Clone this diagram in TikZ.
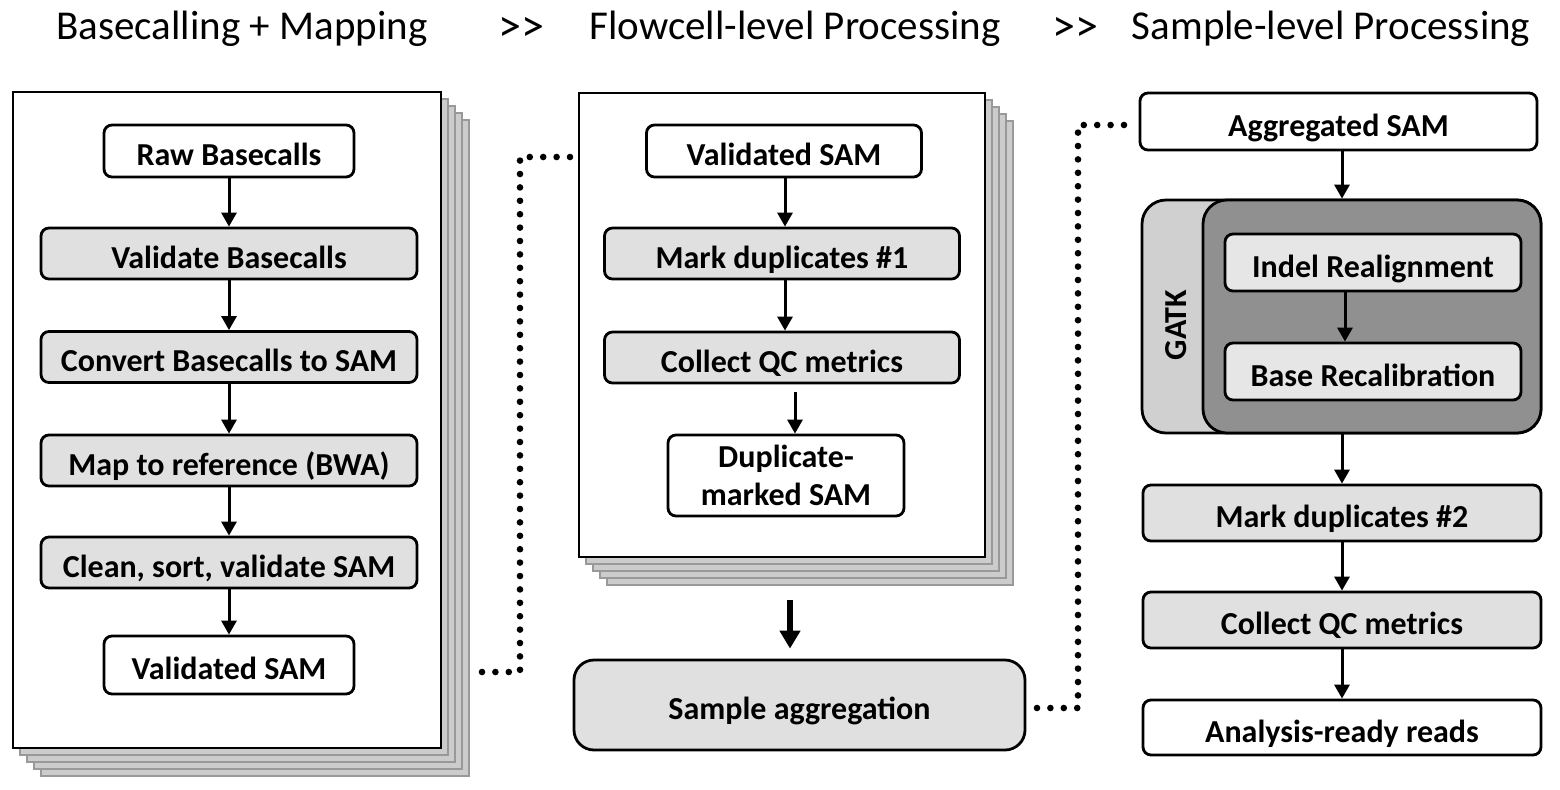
\documentclass[tikz,border=0pt]{standalone}
\usepackage{fontspec}
\setmainfont{Carlito}
\usetikzlibrary{arrows.meta}
\definecolor{boxgray}{HTML}{E0E0E0}
\definecolor{pagegray}{HTML}{CCCCCC}
\definecolor{pageline}{HTML}{999999}
\definecolor{gatklight}{HTML}{D0D0D0}
\definecolor{gatkdark}{HTML}{909090}
\definecolor{innergray}{HTML}{E6E6E6}
\begin{document}
\begin{tikzpicture}[x=0.5pt,y=-0.5pt,
  stepbox/.style={draw,line width=1.4pt,rounded corners=4pt,inner sep=0pt,fill=white,
    text height=14.5pt,text depth=0pt,
    font=\bfseries\fontsize{16}{19}\selectfont},
  graybox/.style={stepbox,fill=boxgray},
  page/.style={draw=pageline,fill=pagegray,line width=1pt},
  frontpage/.style={draw,fill=white,line width=1.4pt},
  flow/.style={-{Triangle[length=7pt,width=7.5pt]},line width=1.5pt},
  link/.style={line width=3.3pt,line cap=round,dash pattern=on 0pt off 6.7pt},
  heading/.style={font=\fontsize{20.5}{24}\selectfont}]
\useasboundingbox (0,0) rectangle (1560,789);
% headings
\node [heading] (h1) at (242,29) {Basecalling + Mapping};
\node [heading,font=\fontsize{23}{24}\selectfont] (g1) at (521,29) {{>}{>}};
\node [heading] (h2) at (795,29) {Flowcell-level Processing};
\node [heading,font=\fontsize{23}{24}\selectfont] (g2) at (1075,29) {{>}{>}};
\node [heading] (h3) at (1331,29) {Sample-level Processing};
% stacked pages, left
\draw [page] (41,120) rectangle (469,776);
\draw [page] (34,113) rectangle (462,769);
\draw [page] (27,106) rectangle (455,762);
\draw [page] (20,99) rectangle (448,755);
\draw [frontpage] (13,92) rectangle (441,748);
% stacked pages, middle
\draw [page] (607,121) rectangle (1013,585);
\draw [page] (600,114) rectangle (1006,578);
\draw [page] (593,107) rectangle (999,571);
\draw [page] (586,100) rectangle (992,564);
\draw [frontpage] (579,93) rectangle (985,557);
% basecalling + mapping
\node [stepbox,minimum width=125pt,minimum height=26pt] (raw) at (229,151) {Raw Basecalls};
\node [graybox,minimum width=188pt,minimum height=25.5pt] (valbc) at (229,253.5) {Validate Basecalls};
\node [graybox,minimum width=188pt,minimum height=25.5pt] (conv) at (229,357) {Convert Basecalls to SAM};
\node [graybox,minimum width=188pt,minimum height=25.5pt] (bwa) at (229,460.5) {Map to reference (BWA)};
\node [graybox,minimum width=188pt,minimum height=25.5pt] (clean) at (229,562.5) {Clean, sort, validate SAM};
\node [stepbox,minimum width=125pt,minimum height=29pt] (vsam) at (229,665) {Validated SAM};
\draw [flow] (raw) -- (valbc);
\draw [flow] (valbc) -- (conv);
\draw [flow] (conv) -- (bwa);
\draw [flow] (bwa) -- (clean);
\draw [flow] (clean) -- (vsam);
% flowcell-level
\node [stepbox,minimum width=137.5pt,minimum height=26pt] (fsam) at (784,151) {Validated SAM};
\node [graybox,minimum width=177.5pt,minimum height=25.5pt] (mdup1) at (782,253.5) {Mark duplicates \#1};
\node [graybox,minimum width=177.5pt,minimum height=25.5pt] (qc1) at (782,357.5) {Collect QC metrics};
\node [stepbox,minimum width=118pt,minimum height=40.5pt,align=center,text height=,text depth=] (dsam) at (786,475.5) {Duplicate-\\marked SAM};
\draw [flow] (fsam.south -| mdup1.north) ++(3,0) -- ([xshift=1.5pt]mdup1.north);
\draw [flow] ([xshift=1.5pt]mdup1.south) -- ([xshift=1.5pt]qc1.north);
\draw [flow] ([xshift=6.5pt,yshift=-4pt]qc1.south) -- ([xshift=4.5pt]dsam.north);
\coordinate (stackend) at (790,600);
\node [graybox,rounded corners=10pt,minimum width=225.5pt,minimum height=45pt] (agg) at (799.5,705) {Sample aggregation};
\draw [-{Triangle[length=9pt,width=10pt]},line width=2.6pt,shorten >=5pt] (stackend) -- (stackend |- agg.north);
% sample-level
\node [stepbox,minimum width=198.5pt,minimum height=28.5pt] (asam) at (1338.5,121.5) {Aggregated SAM};
\node [draw,line width=1.4pt,fill=gatklight,rounded corners=12pt,minimum width=199.5pt,minimum height=116.5pt] (gatk) at (1341.5,316.5) {};
\node [draw,line width=1.4pt,fill=gatkdark,rounded corners=12pt,minimum width=169pt,minimum height=116.5pt] (gatkin) at (1372,316.5) {};
\node [rotate=90,font=\bfseries\fontsize{16}{19}\selectfont] (gatklabel) at (1176,325) {GATK};
\node [stepbox,fill=innergray,minimum width=148pt,minimum height=28.5pt] (indel) at (1373,262.5) {Indel Realignment};
\node [stepbox,fill=innergray,minimum width=148pt,minimum height=28.5pt] (brecal) at (1373,371.5) {Base Recalibration};
\node [graybox,minimum width=199pt,minimum height=28pt] (mdup2) at (1342,513) {Mark duplicates \#2};
\node [graybox,minimum width=199pt,minimum height=28pt] (qc2) at (1342,620) {Collect QC metrics};
\node [stepbox,minimum width=199pt,minimum height=27.5pt] (ready) at (1342,727.5) {Analysis-ready reads};
\draw [flow] (asam.south -| mdup2.north) -- (gatk.north -| mdup2.north);
\draw [flow] ([xshift=-14pt]indel.south) -- ([xshift=-14pt]brecal.north);
\draw [flow] (gatk.south -| mdup2.north) -- (mdup2);
\draw [flow] (mdup2) -- (qc2);
\draw [flow] (qc2) -- (ready);
% dotted links between stages
\coordinate (l1a) at (482,672);
\coordinate (l1b) at (520,672);
\coordinate (l1c) at (520,157);
\coordinate (l1d) at (573,157);
\draw [link] (l1a) -- (l1b) -- (l1c) -- (l1d);
\coordinate (l2a) at (1037,708);
\coordinate (l2b) at (1078,708);
\coordinate (l2c) at (1078,125);
\coordinate (l2d) at (1128,125);
\draw [link] (l2a) -- (l2b) -- (l2c) -- (l2d);
\end{tikzpicture}
\end{document}
